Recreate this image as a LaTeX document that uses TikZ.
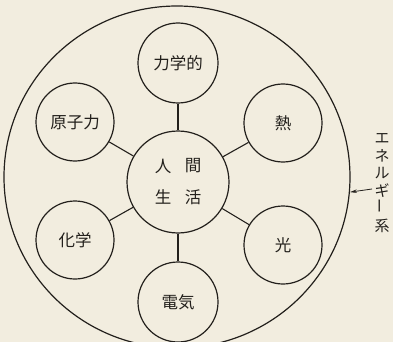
\documentclass[tikz,border=0pt]{standalone}
\usepackage{fontspec}
\newfontfamily\jp{Noto Sans CJK JP}
\usetikzlibrary{arrows.meta,shapes.geometric}
\definecolor{paper}{RGB}{242,237,223}
\definecolor{ink}{RGB}{35,32,28}
\begin{document}
\begin{tikzpicture}[x=1pt,y=-1pt,
  ring/.style={circle,draw=ink,line width=1.2pt,minimum size=#1,inner sep=0pt},
  lab/.style={font=\jp\fontsize{16.5}{18}\selectfont,text=ink},
  link/.style={draw=ink,line width=1.1pt}]
\useasboundingbox (0,0) rectangle (393,342);
\fill[paper] (0,0) rectangle (393,342);
\node[ellipse,draw=ink,line width=1.2pt,minimum width=346pt,minimum height=342pt,inner sep=0pt] (outer) at (177,177) {};
\node[ring=102pt] (c) at (178,182) {};
\node[lab] (c1) at (163,166) {人};
\node[lab] (c2) at (193,166) {間};
\node[lab] (c3) at (163,197) {生};
\node[lab] (c4) at (193,197) {活};
\node[ring=80pt,lab] (a) at (178,63) {力学的};
\node[ring=78pt,lab] (b) at (283,123) {熱};
\node[ring=78pt,lab] (d) at (283,245) {光};
\node[ring=80pt,lab] (e) at (178,302) {電気};
\node[ring=78pt,lab] (f) at (75,240) {化学};
\node[ring=78pt,lab] (g) at (75,122) {原子力};
\foreach \n in {a,b,d,e,f,g} \draw[link] (c) -- (\n);
\node[font=\jp\fontsize{15}{17.5}\selectfont,text=ink,align=center,inner sep=0pt] (v) at (382,183)
  {エ\\ネ\\ル\\ギ\\\rotatebox{90}{ー}\\系};
\coordinate (t) at (372,189);
\draw[draw=ink,line width=0.8pt,-{Stealth[length=7pt,width=3.5pt]}] (t) -- (outer.{-5});
\end{tikzpicture}
\end{document}
